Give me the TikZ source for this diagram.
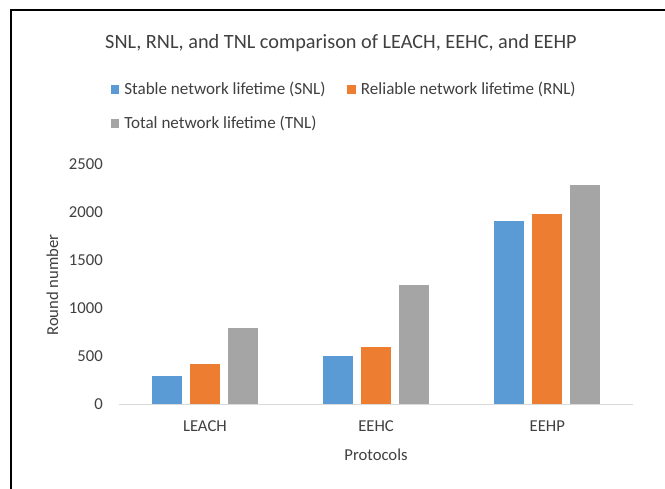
\documentclass[tikz,border=0pt]{standalone}
\usepackage{fontspec}
\setmainfont{Carlito}
\definecolor{cblue}{HTML}{5B9BD5}
\definecolor{corange}{HTML}{ED7D31}
\definecolor{cgray}{HTML}{A5A5A5}
\definecolor{caxis}{HTML}{D9D9D9}
\definecolor{ctext}{HTML}{404040}
\newcommand{\vy}[1]{404.3-#1*0.0962}
\begin{document}
\begin{tikzpicture}[x=0.75pt,y=-0.75pt,
  lbl/.style={inner sep=0pt,text=ctext,font=\fontsize{12.5}{14}\selectfont},
  leg/.style={inner sep=0pt,text=ctext,font=\fontsize{12.8}{14}\selectfont},
  ttl/.style={inner sep=0pt,text=ctext,font=\fontsize{15.2}{18}\selectfont},
  legsq/.style={minimum size=6.4pt,inner sep=0pt,draw=none}]
\useasboundingbox (0,0) rectangle (665,489);
\fill[white] (0,0) rectangle (665,489);
% frame
\draw[line width=1.6pt,line join=miter] (665,10) -- (11,10) -- (11,489);
% title
\node[ttl] (title) at (341,43.5) {SNL, RNL, and TNL comparison of LEACH, EEHC, and EEHP};
% legend
\node[legsq,fill=cblue] (lg1) at (115,89.3) {};
\node[leg,anchor=west] (lt1) at (124,89.3) {Stable network lifetime (SNL)};
\node[legsq,fill=corange] (lg2) at (351.7,89.3) {};
\node[leg,anchor=west] (lt2) at (360.7,89.3) {Reliable network lifetime (RNL)};
\node[legsq,fill=cgray] (lg3) at (115,123.3) {};
\node[leg,anchor=west] (lt3) at (124,123.3) {Total network lifetime (TNL)};
% y tick labels
\foreach \v in {0,500,1000,1500,2000,2500}{
  \node[lbl,anchor=east] (yt\v) at (103,{\vy{\v}}) {\v};
}
\node[lbl,rotate=90] (ylab) at (52.5,285) {Round number};
% bars
\foreach \c/\cx/\a/\b/\d in {L/204.9/294/416/790, C/376.1/499/596/1237, P/547.3/1902/1975/2277}{
  \fill[cblue] ({\cx-38-15},{\vy{\a}}) rectangle ({\cx-38+15},404.3);
  \fill[corange] ({\cx-15},{\vy{\b}}) rectangle ({\cx+15},404.3);
  \fill[cgray] ({\cx+38-15},{\vy{\d}}) rectangle ({\cx+38+15},404.3);
}
% axis
\coordinate (axl) at (119.3,404.3);
\coordinate (axr) at (633,404.3);
\draw[caxis,line width=0.8pt] (axl) -- (axr);
% category labels
\node[lbl] (cL) at (204.9,426.5) {LEACH};
\node[lbl] (cC) at (376.1,426.5) {EEHC};
\node[lbl] (cP) at (547.3,426.5) {EEHP};
\node[lbl] (xlab) at (376,455) {Protocols};
\end{tikzpicture}
\end{document}
